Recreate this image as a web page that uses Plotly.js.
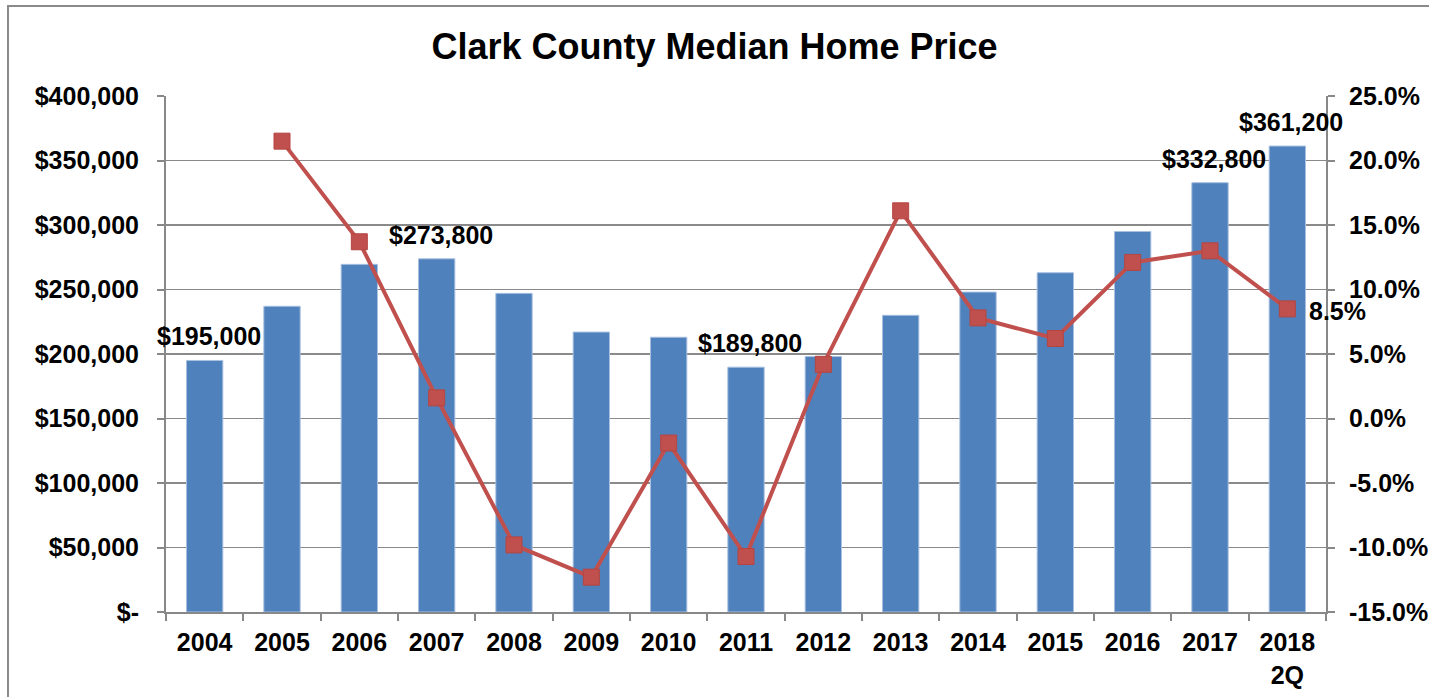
<!DOCTYPE html>
<html>
<head>
<meta charset="utf-8">
<script src="https://cdn.plot.ly/plotly-3.0.1.min.js"></script>
<style>html,body{margin:0;padding:0;background:#fff;}#chart{width:1429px;height:697px;}</style>
</head>
<body>
<div id="chart"></div>
<script>
var categories = ["2004","2005","2006","2007","2008","2009","2010","2011","2012","2013","2014","2015","2016","2017","2018<br>2Q"];
var medianPrice = [195000,237000,269500,273800,247000,217000,213000,189800,198000,230000,248000,263000,295000,332800,361200];
var priceLabels = ["$195,000","","","$273,800","","","","$189,800","","","","","","$332,800","$361,200"];
var changeCats = categories.slice(1);
var pctChange = [21.5,13.7,1.6,-9.8,-12.3,-1.9,-10.7,4.2,16.1,7.8,6.2,12.1,13.0,8.5];
var pctLabels = ["","","","","","","","","","","","","","8.5%"];
var leftTickVals = [0,50000,100000,150000,200000,250000,300000,350000,400000];
var leftTickText = ["$-","$50,000","$100,000","$150,000","$200,000","$250,000","$300,000","$350,000","$400,000"];
var rightTickVals = [-15,-10,-5,0,5,10,15,20,25];
var rightTickText = ["-15.0%","-10.0%","-5.0%","0.0%","5.0%","10.0%","15.0%","20.0%","25.0%"];

var FONT = "Liberation Sans, Arial, sans-serif";
var FS = 25;

var bars = {
  type: "bar",
  x: categories,
  y: medianPrice,
  width: 0.47,
  marker: {color: "#4F81BD", line: {color: "#A9C0E0", width: 1}},
  hoverinfo: "x+y",
  yaxis: "y"
};
var line = {
  type: "scatter",
  mode: "lines+markers",
  x: changeCats,
  y: pctChange,
  line: {color: "#C0504D", width: 4},
  marker: {symbol: "square", size: 16, color: "#C0504D", line: {color: "#B54542", width: 1}},
  yaxis: "y2",
  cliponaxis: false
};

var annotations = [];
for (var i = 0; i < categories.length; i++) {
  if (priceLabels[i]) {
    annotations.push({
      x: i, y: medianPrice[i], xref: "x", yref: "y",
      text: "<b>" + priceLabels[i] + "</b>", showarrow: false,
      yanchor: "bottom", xanchor: "center", yshift: 8, xshift: 4,
      font: {family: FONT, size: FS, color: "#000"}
    });
  }
}
for (var j = 0; j < changeCats.length; j++) {
  if (pctLabels[j]) {
    annotations.push({
      x: j + 1, y: pctChange[j], xref: "x", yref: "y2",
      text: "<b>" + pctLabels[j] + "</b>", showarrow: false,
      yanchor: "middle", xanchor: "left", xshift: 20, yshift: -2,
      font: {family: FONT, size: FS, color: "#000"}
    });
  }
}

var layout = {
  width: 1429, height: 697,
  margin: {l: 166, r: 103, t: 96, b: 85},
  paper_bgcolor: "#fff", plot_bgcolor: "#fff",
  showlegend: false,
  bargap: 0.53,
  title: {text: "<b>Clark County Median Home Price</b>", font: {family: FONT, size: 36, color: "#000"}, x: 0.5, xanchor: "center", y: 0.933, yanchor: "middle"},
  xaxis: {
    type: "category",
    categoryorder: "array", categoryarray: categories,
    range: [-0.5, categories.length - 0.5],
    tickson: "boundaries",
    ticks: "outside", ticklen: 7, tickcolor: "#888", tickwidth: 2,
    showline: true, linecolor: "#888", linewidth: 2,
    showgrid: false,
    tickangle: 0,
    tickfont: {family: FONT, size: FS, color: "#000", weight: "bold"},
    ticklabelstandoff: 7
  },
  yaxis: {
    range: [0, 400000],
    tickvals: leftTickVals, ticktext: leftTickText,
    ticks: "outside", ticklen: 7, tickcolor: "#888", tickwidth: 2,
    showline: true, linecolor: "#888", linewidth: 2,
    showgrid: true, gridcolor: "#8a8a8a", gridwidth: 1.5,
    zeroline: false,
    tickfont: {family: FONT, size: FS, color: "#000", weight: "bold"},
    ticklabelstandoff: 13
  },
  yaxis2: {
    overlaying: "y", side: "right",
    range: [-15, 25],
    tickvals: rightTickVals, ticktext: rightTickText,
    ticks: "outside", ticklen: 7, tickcolor: "#888", tickwidth: 2,
    showline: true, linecolor: "#888", linewidth: 2,
    showgrid: false, zeroline: false,
    tickfont: {family: FONT, size: FS, color: "#000", weight: "bold"},
    ticklabelstandoff: 9
  },
  annotations: annotations,
  shapes: [{
    type: "rect", xref: "paper", yref: "paper",
    x0: -0.1362, x1: 1.2, y0: -0.3, y1: 1.1744,
    line: {color: "#8a8a8a", width: 2}, layer: "below"
  }]
};

Plotly.newPlot("chart", [bars, line], layout, {displayModeBar: false, staticPlot: true});
</script>
</body>
</html>
